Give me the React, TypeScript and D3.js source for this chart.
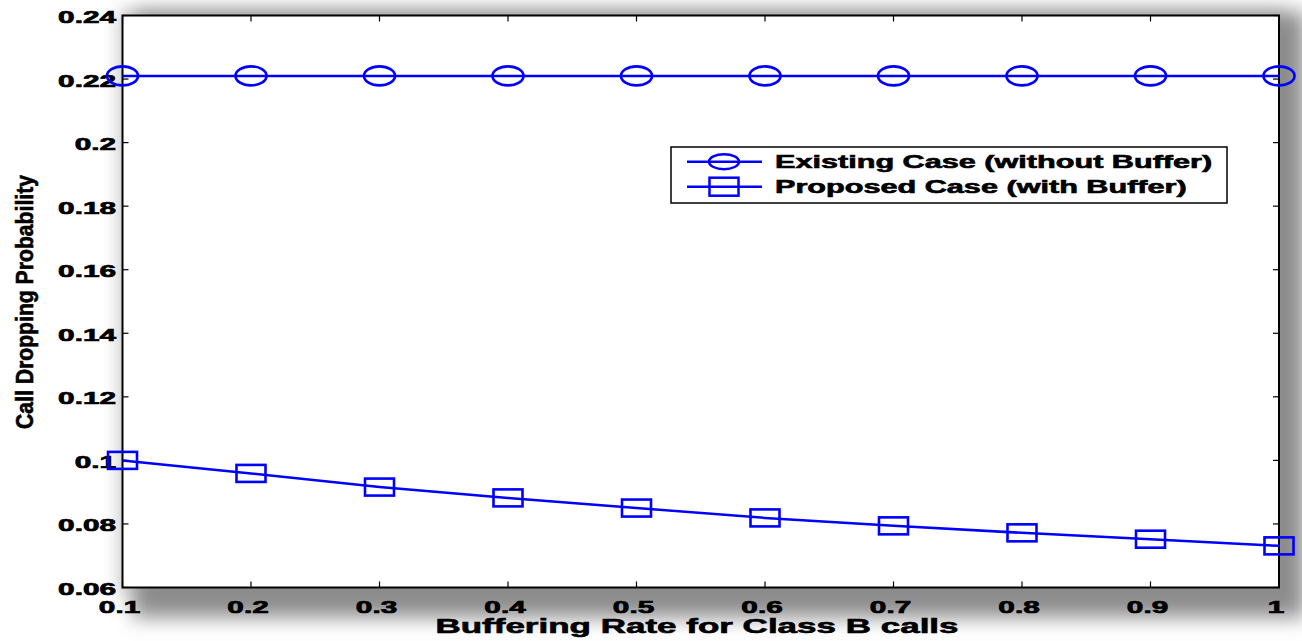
import React, { useEffect, useRef } from "react";
import * as d3 from "d3";

// Buffering rate (x) and call dropping probability for the two cases
const bufferingRates = [0.1, 0.2, 0.3, 0.4, 0.5, 0.6, 0.7, 0.8, 0.9, 1.0];
const existingCase = [0.221, 0.221, 0.221, 0.221, 0.221, 0.221, 0.221, 0.221, 0.221, 0.221];
const proposedCase = [0.1, 0.0959, 0.0916, 0.0882, 0.085, 0.0819, 0.0794, 0.0772, 0.0752, 0.0731];

const xTicks = [0.1, 0.2, 0.3, 0.4, 0.5, 0.6, 0.7, 0.8, 0.9, 1];
const yTicks = [0.06, 0.08, 0.1, 0.12, 0.14, 0.16, 0.18, 0.2, 0.22, 0.24];

const seriesNames = ["Existing Case (without Buffer)", "Proposed Case (with Buffer)"];
const xTitle = "Buffering Rate for Class B calls";
const yTitle = "Call Dropping Probability";

const W = 1302;
const H = 641;
const FONT = "'Liberation Sans', Arial, Helvetica, sans-serif";
const SX = 1.75; // horizontal stretch of the labels
const BLUE = "#0000ff";

export default function App() {
  const ref = useRef<SVGSVGElement | null>(null);

  useEffect(() => {
    const svg = d3.select(ref.current);
    svg.selectAll("*").remove();

    const left = 122.5, right = 1279, top = 15.5, bottom = 587.5;
    const x = d3.scaleLinear().domain([0.1, 1]).range([left, right]);
    const y = d3.scaleLinear().domain([0.06, 0.24]).range([bottom, top]);

    const defs = svg.append("defs");
    const blur = defs.append("filter").attr("id", "shadowBlur")
      .attr("x", "-20%").attr("y", "-20%").attr("width", "140%").attr("height", "140%");
    blur.append("feGaussianBlur").attr("stdDeviation", 10);
    const glow = defs.append("filter").attr("id", "glowBlur")
      .attr("x", "-20%").attr("y", "-20%").attr("width", "140%").attr("height", "140%");
    glow.append("feGaussianBlur").attr("stdDeviation", 8);

    svg.append("rect").attr("width", W).attr("height", H).attr("fill", "#ffffff");

    // soft halo and drop shadow behind the axes box
    svg.append("rect")
      .attr("x", left - 6).attr("y", top - 6)
      .attr("width", right - left + 12).attr("height", bottom - top + 12)
      .attr("fill", "#dcdcdc").attr("filter", "url(#glowBlur)");
    svg.append("rect")
      .attr("x", left + 10).attr("y", top - 4)
      .attr("width", right - left + 16).attr("height", bottom - top + 34)
      .attr("fill", "#8c8c8c").attr("filter", "url(#shadowBlur)");

    svg.append("rect")
      .attr("x", left).attr("y", top)
      .attr("width", right - left).attr("height", bottom - top)
      .attr("fill", "#ffffff");

    // ticks on all four sides, pointing inward
    const tl = 6;
    const tg = svg.append("g").attr("stroke", "#000").attr("stroke-width", 1.2);
    xTicks.forEach((t) => {
      tg.append("line").attr("x1", x(t)).attr("x2", x(t)).attr("y1", bottom).attr("y2", bottom - tl);
      tg.append("line").attr("x1", x(t)).attr("x2", x(t)).attr("y1", top).attr("y2", top + tl);
    });
    yTicks.forEach((t) => {
      tg.append("line").attr("x1", left).attr("x2", left + tl).attr("y1", y(t)).attr("y2", y(t));
      tg.append("line").attr("x1", right).attr("x2", right - tl).attr("y1", y(t)).attr("y2", y(t));
    });

    svg.append("rect")
      .attr("x", left).attr("y", top)
      .attr("width", right - left).attr("height", bottom - top)
      .attr("fill", "none").attr("stroke", "#000").attr("stroke-width", 2);

    const fmt = (v: number) => String(+v.toFixed(2));
    const heavy = (sel: any, w: number) =>
      sel.attr("stroke", "#000").attr("stroke-width", w).attr("paint-order", "stroke");

    // y tick labels
    heavy(svg.append("g").selectAll("text").data(yTicks).join("text")
      .attr("transform", (d) => `translate(116,${y(d) + 7.5}) scale(${SX},1)`)
      .attr("text-anchor", "end")
      .attr("font-family", FONT).attr("font-weight", "bold").attr("font-size", 17)
      .attr("fill", "#000")
      .text(fmt), 0.7);

    // x tick labels
    heavy(svg.append("g").selectAll("text").data(xTicks).join("text")
      .attr("transform", (d) => `translate(${x(d) - 3},${613}) scale(${SX},1)`)
      .attr("text-anchor", "middle")
      .attr("font-family", FONT).attr("font-weight", "bold").attr("font-size", 17)
      .attr("fill", "#000")
      .text(fmt), 0.7);

    // axis titles
    heavy(svg.append("text")
      .attr("transform", `translate(697,633) scale(${SX},1)`)
      .attr("text-anchor", "middle")
      .attr("font-family", FONT).attr("font-weight", "bold").attr("font-size", 20)
      .attr("fill", "#000")
      .text(xTitle), 0.6);

    heavy(svg.append("text")
      .attr("transform", `translate(33,302) rotate(-90)`)
      .attr("text-anchor", "middle")
      .attr("font-family", FONT)
      .attr("font-weight", "bold").attr("font-size", 23)
      .attr("textLength", 254).attr("lengthAdjust", "spacingAndGlyphs")
      .attr("fill", "#000")
      .text(yTitle), 0.6);

    const line = d3.line<number>()
      .x((_, i) => x(bufferingRates[i]))
      .y((d) => y(d));

    const drawCircle = (g: any, cx: number, cy: number) =>
      g.append("ellipse").attr("cx", cx).attr("cy", cy).attr("rx", 15.5).attr("ry", 9.5)
        .attr("fill", "none").attr("stroke", BLUE).attr("stroke-width", 2.6);
    const drawSquare = (g: any, cx: number, cy: number) =>
      g.append("rect").attr("x", cx - 14.5).attr("y", cy - 8.5).attr("width", 29).attr("height", 17)
        .attr("fill", "none").attr("stroke", BLUE).attr("stroke-width", 2.6);

    const plot = svg.append("g");
    plot.append("path").attr("d", line(existingCase))
      .attr("fill", "none").attr("stroke", BLUE).attr("stroke-width", 2.5);
    plot.append("path").attr("d", line(proposedCase))
      .attr("fill", "none").attr("stroke", BLUE).attr("stroke-width", 2.5);
    existingCase.forEach((v, i) => drawCircle(plot, x(bufferingRates[i]), y(v)));
    proposedCase.forEach((v, i) => drawSquare(plot, x(bufferingRates[i]), y(v)));

    // legend
    const lg = svg.append("g");
    lg.append("rect").attr("x", 671).attr("y", 147).attr("width", 556).attr("height", 56)
      .attr("fill", "#fff").attr("stroke", "#000").attr("stroke-width", 1.5);
    const rows = [161.7, 186.7];
    rows.forEach((ry, i) => {
      lg.append("line").attr("x1", 687).attr("x2", 762).attr("y1", ry).attr("y2", ry)
        .attr("stroke", BLUE).attr("stroke-width", 2.5);
      if (i === 0) {
        lg.append("ellipse").attr("cx", 724).attr("cy", ry).attr("rx", 15).attr("ry", 7.5)
          .attr("fill", "none").attr("stroke", BLUE).attr("stroke-width", 2.5);
      } else {
        lg.append("rect").attr("x", 709.5).attr("y", ry - 9).attr("width", 29).attr("height", 18)
          .attr("fill", "none").attr("stroke", BLUE).attr("stroke-width", 2.5);
      }
      heavy(lg.append("text")
        .attr("transform", `translate(775,${ry + 6.5}) scale(${SX},1)`)
        .attr("font-family", FONT).attr("font-weight", "bold").attr("font-size", 17.5)
        .attr("fill", "#000")
        .text(seriesNames[i]), 0.6);
    });
  }, []);

  return (
    <svg
      ref={ref}
      width={W}
      height={H}
      style={{ position: "fixed", left: 0, top: 0, display: "block" }}
    />
  );
}
